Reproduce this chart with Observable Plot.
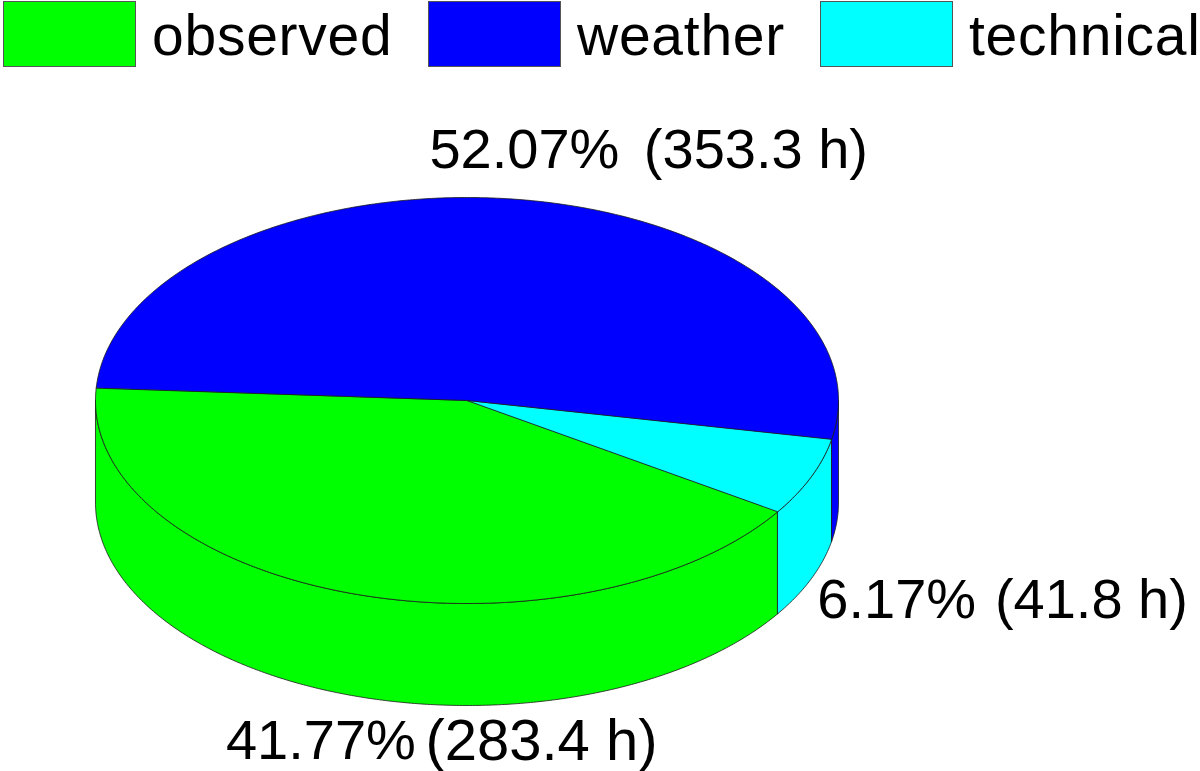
<!DOCTYPE html>
<html>
<head>
<meta charset="utf-8">
<script src="https://cdn.jsdelivr.net/npm/d3@7"></script>
<script src="https://cdn.jsdelivr.net/npm/@observablehq/plot@0.6"></script>
<style>
  html, body { margin: 0; padding: 0; background: #fff; }
  #wrap { width: 1200px; font-family: "Liberation Sans", Arial, sans-serif; color: #000; overflow: hidden; }
  #legend { position: relative; height: 70px; }
  #legend i { position: absolute; top: 1px; width: 131px; height: 64px; border: 1px solid #555; box-sizing: content-box; }
  #legend span { position: absolute; top: 2px; font-size: 57px; line-height: 66px; letter-spacing: 0.75px; white-space: nowrap; }
  svg { display: block; }
</style>
</head>
<body>
<div id="wrap"><div id="legend"></div><div id="chart"></div></div>
<script>
const categories = ["observed", "technical", "weather"];
const shares = [41.77, 6.17, 52.07];
const hours = [283.4, 41.8, 353.3];
const colors = ["#00ff00", "#00ffff", "#0000ff"];
const legendOrder = ["observed", "weather", "technical"];

// Layout of the drawing
const W = 1200, H = 771, legendH = 70;
const cx = 466.5, cy = 400, rx = 371.5, ry = 203, depth = 102 / 203;
const startAngle = 183.6; // degrees, clockwise on screen from +x

const legendX = { observed: [3, 152], weather: [428, 577], technical: [820, 969] };
const legend = document.getElementById("legend");
for (const name of legendOrder) {
  const sw = document.createElement("i");
  sw.style.left = legendX[name][0] + "px";
  sw.style.background = colors[categories.indexOf(name)];
  const t = document.createElement("span");
  t.style.left = legendX[name][1] + "px";
  t.textContent = name;
  legend.append(sw, t);
}

const total = d3.sum(shares);
const rad = a => a * Math.PI / 180;
function arc(from, to) {
  const n = Math.max(2, Math.ceil(Math.abs(to - from) / 0.5));
  return d3.range(n + 1).map(i => from + (to - from) * i / n);
}
const topPts = [], sidePts = [];
let a0 = startAngle;
categories.forEach((name, i) => {
  const a1 = a0 - shares[i] / total * 360;
  topPts.push({ name, x: 0, y: 0 });
  for (const a of arc(a0, a1)) topPts.push({ name, x: Math.cos(rad(a)), y: Math.sin(rad(a)) });
  const hi = Math.min(a0, 180), lo = Math.max(a1, 0);
  if (hi > lo) {
    const as = arc(hi, lo);
    for (const a of as) sidePts.push({ name, x: Math.cos(rad(a)), y: Math.sin(rad(a)) });
    for (const a of as.slice().reverse()) sidePts.push({ name, x: Math.cos(rad(a)), y: Math.sin(rad(a)) + depth });
  }
  a0 = a1;
});

// Label anchors in pie units: start of the percentage, start of the hours, baseline row
const labels = [
  { name: "observed", xp: -0.649, xh: -0.112, y: 1.68 },
  { name: "technical", xp: 0.943, xh: 1.421, y: 0.985 },
  { name: "weather", xp: -0.101, xh: 0.476, y: -1.235 }
].map(d => {
  const i = categories.indexOf(d.name);
  return { ...d, pct: `${shares[i].toFixed(2)}%`, hrs: `(${hours[i].toFixed(1)} h)` };
});

const color = { domain: categories, range: colors };
const shape = { x: "x", y: "y", z: "name", fill: "name", stroke: "#1a1a1a", strokeWidth: 0.8, curve: "linear-closed" };

const chart = Plot.plot({
  width: W,
  height: H - legendH,
  margin: 0,
  x: { domain: [-cx / rx, (W - cx) / rx], range: [0, W], axis: null },
  y: { domain: [(legendH - cy) / ry, (H - cy) / ry], range: [0, H - legendH], axis: null },
  color,
  style: { background: "#fff", fontFamily: '"Liberation Sans", Arial, sans-serif' },
  marks: [
    Plot.line(sidePts, shape),
    Plot.line(topPts, shape),
    Plot.text(labels, { x: "xp", y: "y", text: "pct", fontSize: 56, fill: "#000", textAnchor: "start" }),
    Plot.text(labels.filter(d => d.name !== "observed"), { x: "xh", y: "y", text: "hrs", fontSize: 56, fill: "#000", textAnchor: "start" }),
    Plot.text(labels.filter(d => d.name === "observed"), { x: "xh", y: "y", text: "hrs", fontSize: 58, fill: "#000", textAnchor: "start" })
  ]
});
document.getElementById("chart").append(chart);
</script>
</body>
</html>
